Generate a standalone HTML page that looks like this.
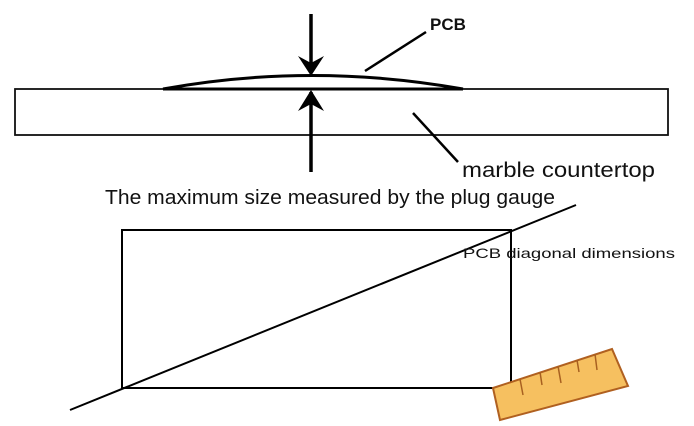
<!DOCTYPE html>
<html><head><style>
html,body{margin:0;padding:0;background:#fff;}
svg{display:block}
text{font-family:"Liberation Sans",sans-serif;fill:#111}
</style></head><body>
<svg width="694" height="426" viewBox="0 0 694 426">
<rect x="15" y="89" width="653" height="46" fill="#fff" stroke="#111" stroke-width="1.8"/>
<path d="M163,89 Q311,62 463,89" fill="#fff" stroke="#000" stroke-width="3"/>
<line x1="163" y1="89" x2="463" y2="89" stroke="#000" stroke-width="3"/>
<line x1="311" y1="14" x2="311" y2="73" stroke="#000" stroke-width="3.5"/>
<path d="M298,56 L311,76 L324,56 L311,63 z" fill="#000"/>
<line x1="311" y1="172" x2="311" y2="92" stroke="#000" stroke-width="3.5"/>
<path d="M298,111 L311,90 L324,111 L311,104 z" fill="#000"/>
<line x1="365" y1="71" x2="426" y2="32" stroke="#000" stroke-width="2.5"/>
<text x="430" y="30" font-size="17" font-weight="bold">PCB</text>
<line x1="413" y1="113" x2="458" y2="162" stroke="#000" stroke-width="2.5"/>
<text x="462" y="177" font-size="21" textLength="193" lengthAdjust="spacingAndGlyphs">marble countertop</text>
<text x="105" y="204" font-size="20" textLength="450" lengthAdjust="spacingAndGlyphs">The maximum size measured by the plug gauge</text>
<rect x="122" y="230" width="389" height="158" fill="none" stroke="#000" stroke-width="2"/>
<line x1="70" y1="410" x2="576" y2="205" stroke="#000" stroke-width="2"/>
<text x="463" y="258" font-size="14" textLength="212" lengthAdjust="spacingAndGlyphs">PCB diagonal dimensions</text>
<polygon points="493,388 612,349 628,386 500,420" fill="#f6c060" stroke="#b06020" stroke-width="2"/>
<g stroke="#a86020" stroke-width="1.5">
<line x1="520" y1="379" x2="523" y2="395"/><line x1="540" y1="372" x2="542" y2="385"/><line x1="558" y1="366" x2="561" y2="383"/><line x1="577" y1="360" x2="579" y2="372"/><line x1="595" y1="354" x2="597" y2="370"/>
</g>
</svg>
</body></html>
